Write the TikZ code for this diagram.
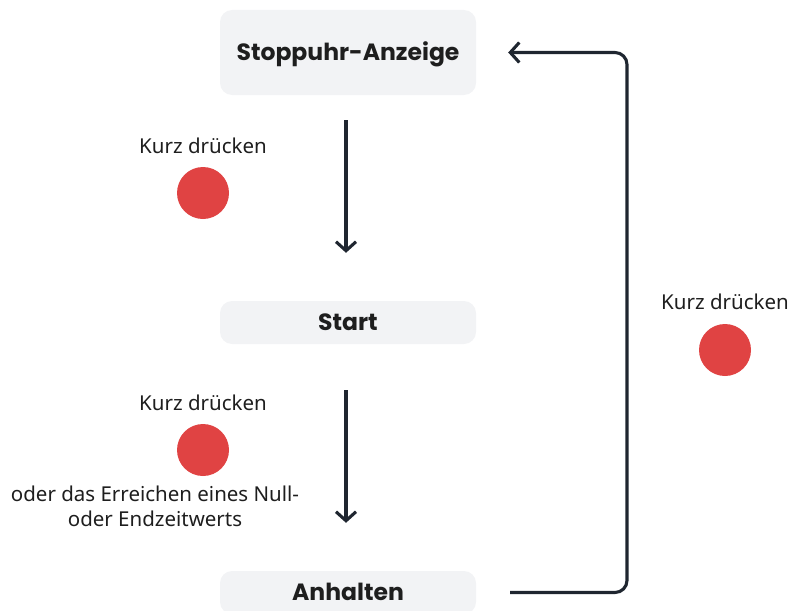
\documentclass[tikz,border=0pt]{standalone}
\usepackage{fontspec}
\setmainfont{Noto Sans}
\newfontfamily\headfont{Poppins}
\usetikzlibrary{arrows.meta}
\definecolor{boxgrey}{HTML}{F2F3F5}
\definecolor{linedark}{HTML}{1F2630}
\definecolor{dotred}{HTML}{E04343}
\definecolor{textdark}{HTML}{1E1E1E}

\begin{document}
\begin{tikzpicture}[x=1pt, y=-1pt,
  statebox/.style = {fill=boxgrey, rounded corners=12pt, minimum width=256pt, text height=18pt, text depth=2pt, text=textdark, font=\headfont\bfseries\fontsize{23.5}{28}\selectfont},
  flow/.style = {line width=3.1pt, draw=linedark, -{Straight Barb[length=9pt, width=20pt, line width=3.1pt]}},
  press/.style = {text=textdark, font=\fontsize{20.5}{25}\selectfont},
  dot/.style = {circle, fill=dotred, minimum size=52pt, inner sep=0pt}]
\useasboundingbox (0,0) rectangle (789,610);
\clip (0,0) rectangle (789,610);
\node [statebox, minimum height=85pt] (anzeige) at (348,52.5) {Stoppuhr-Anzeige};
\node [statebox, minimum height=43pt] (start) at (348,322.5) {Start};
\node [statebox, minimum height=43pt] (anhalten) at (348,592.5) {Anhalten};
\node [press] (kurz1) at (203,146) {Kurz drücken};
\node [dot] (dot1) at (203,193) {};
\node [press] (kurz2) at (203,403) {Kurz drücken};
\node [dot] (dot2) at (203,450) {};
\node [press, align=center] (oder) at (155,506) {oder das Erreichen eines Null-\\oder Endzeitwerts};
\node [press] (kurz3) at (725,302) {Kurz drücken};
\node [dot] (dot3) at (725,350) {};
\coordinate (rueck) at (627,322);
% Pfeile
\draw [flow, shorten <=25pt, shorten >=48pt] (anzeige.south -| 346,0) -- (start.north -| 346,0);
\draw [flow, shorten <=46pt, shorten >=48pt] (start.south -| 346,0) -- (anhalten.north -| 346,0);
\draw [flow, rounded corners=12pt, shorten <=34pt, shorten >=32pt] (anhalten.east) -| (rueck) |- (anzeige.east);
\end{tikzpicture}
\end{document}
